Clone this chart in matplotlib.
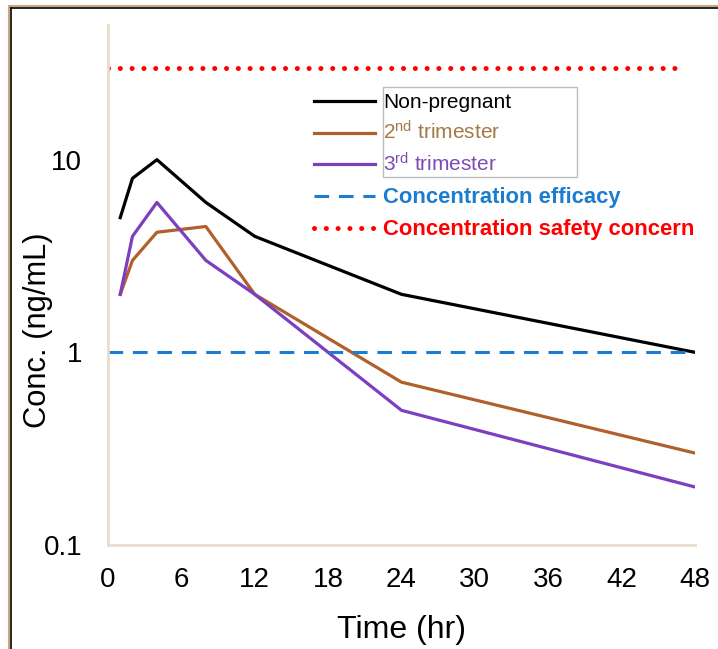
import matplotlib
matplotlib.use("Agg")
import matplotlib.pyplot as plt
from matplotlib.lines import Line2D
from matplotlib.patches import Rectangle

plt.rcParams['font.family'] = ['Liberation Sans', 'DejaVu Sans']
plt.rcParams['mathtext.fontset'] = 'custom'
plt.rcParams['mathtext.rm'] = 'Liberation Sans'
plt.rcParams['mathtext.it'] = 'Liberation Sans'

# Pharmacokinetic profiles (hours, ng/mL)
time_hr = [1, 2, 4, 8, 12, 24, 48]
non_pregnant = [5, 8, 10, 6, 4, 2, 1]
trimester_2 = [2, 3, 4.2, 4.5, 2, 0.7, 0.3]
trimester_3 = [2, 4, 6, 3, 2, 0.5, 0.2]
efficacy_level = 1
safety_level = 30
x_ticks = [0, 6, 12, 18, 24, 30, 36, 42, 48]
y_ticks = [0.1, 1, 10]
y_tick_labels = ["0.1", "1", "10"]
legend_labels = ["Non-pregnant", r"2$^{\mathrm{nd}}$ trimester",
                 r"3$^{\mathrm{rd}}$ trimester", "Concentration efficacy",
                 "Concentration safety concern"]

W, H = 718, 649
fig = plt.figure(figsize=(W / 100, H / 100), dpi=100)
ax = fig.add_axes([108 / W, 1 - 545 / H, (695 - 108) / W, (545 - 25) / H])

c_black = "#000000"
c_brown = "#B0602C"
c_purple = "#7B3FBF"
c_blue = "#1C7DD0"
c_red = "#FF0000"

lw = 2.3
styles = [
    dict(color=c_black, lw=lw),
    dict(color=c_brown, lw=lw),
    dict(color=c_purple, lw=lw),
    dict(color=c_blue, lw=2.2, linestyle=(0, (4.8, 3.2))),
    dict(color=c_red, lw=3.6, linestyle=(0, (0.01, 2.35)), dash_capstyle='round'),
]

ax.plot(time_hr, non_pregnant, **styles[0])
ax.plot(time_hr, trimester_2, **styles[1])
ax.plot(time_hr, trimester_3, **styles[2])
ax.plot([0, 48], [efficacy_level] * 2, **styles[3])
ax.plot([0, 47.2], [safety_level] * 2, **styles[4])

ax.set_yscale('log')
ax.set_ylim(0.1, 50)
ax.set_xlim(0, 48)
ax.set_xticks(x_ticks)
ax.set_yticks(y_ticks)
ax.set_yticklabels(y_tick_labels)
ax.minorticks_off()
ax.tick_params(axis='both', length=0, labelsize=20)
ax.tick_params(axis='y', pad=18.5)
ax.tick_params(axis='x', pad=16)

for side in ('top', 'right'):
    ax.spines[side].set_visible(False)
for side in ('left', 'bottom'):
    ax.spines[side].set_color("#EADCCB")
    ax.spines[side].set_linewidth(2)

ax.set_xlabel("Time (hr)", fontsize=23, labelpad=16)
ax.set_ylabel("Conc. (ng/mL)", fontsize=22.2)
ax.yaxis.set_label_coords(-0.094, 0.413)

# Legend: handle lines and labels placed by hand in figure pixels
def fx(px):
    return px / W


def fy(py):
    return 1 - py / H


row_y = [101, 132.5, 164, 196, 228]
text_colors = ["#000000", "#A27A45", "#7E4AB6", c_blue, c_red]
for i, (label, y) in enumerate(zip(legend_labels, row_y)):
    fig.add_artist(Line2D([fx(314), fx(375)], [fy(y), fy(y)],
                          transform=fig.transFigure, **styles[i]))
    bold = i >= 3
    fig.text(fx(383), fy(y + 7.3), label, fontsize=15.8 if bold else 15,
             color=text_colors[i], fontweight='bold' if bold else 'normal',
             va='baseline', ha='left')

# Box around the first three legend labels
fig.add_artist(Rectangle((fx(383), fy(177)), (577 - 383) / W, (177 - 87) / H,
                         transform=fig.transFigure, fill=False,
                         edgecolor="#BDBDBD", lw=1))

# Frame along the top and left edges
fig.add_artist(Line2D([fx(8.5), fx(8.5)], [0, fy(6)], transform=fig.transFigure,
                      color="#C8A67E", lw=1.5))
fig.add_artist(Line2D([fx(8.5), 1], [fy(6), fy(6)], transform=fig.transFigure,
                      color="#C8A67E", lw=1.5))
fig.add_artist(Line2D([fx(10.5), fx(10.5)], [0, fy(8)], transform=fig.transFigure,
                      color="#000000", lw=1.2))
fig.add_artist(Line2D([fx(10.5), 1], [fy(8), fy(8)], transform=fig.transFigure,
                      color="#000000", lw=1.2))

fig.savefig("out.png", dpi=100)
